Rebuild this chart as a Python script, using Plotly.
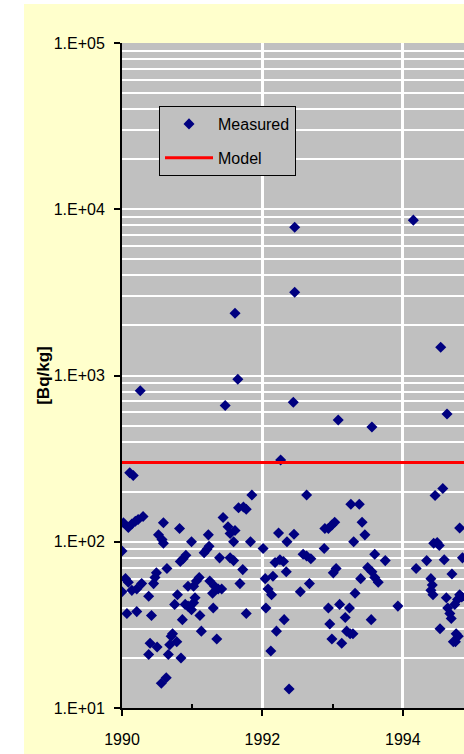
import plotly.graph_objects as go

# ---------------- data ----------------
measured_years = [
    1990.00, 1990.02, 1990.09, 1990.14, 1990.19, 1990.23, 1990.30, 1990.16, 1990.11, 1990.26,
    1990.05, 1990.09, 1990.00, 1990.14, 1990.21, 1990.28, 1990.07, 1990.21, 1990.38, 1990.42,
    1990.45, 1990.47, 1990.49, 1990.40, 1990.38, 1990.50, 1990.56, 1990.63, 1990.59, 1990.52,
    1990.57, 1990.59, 1990.64, 1990.66, 1990.68, 1990.72, 1990.78, 1990.70, 1990.75, 1990.79,
    1990.82, 1990.83, 1990.87, 1990.91, 1990.84, 1990.86, 1990.90, 1990.94, 1990.99, 1991.02,
    1991.04, 1990.94, 1991.02, 1991.06, 1991.10, 1990.99, 1991.11, 1991.13, 1991.17, 1991.21,
    1991.24, 1991.23, 1991.25, 1991.29, 1991.32, 1991.37, 1991.42, 1991.30, 1991.35, 1991.39,
    1991.44, 1991.51, 1991.54, 1991.59, 1991.61, 1991.54, 1991.59, 1991.66, 1991.73, 1991.77,
    1991.85, 1991.68, 1991.72, 1991.77, 1991.83, 1991.61, 1991.65, 1991.47,
    1992.01, 1992.04, 1992.15, 1992.08, 1992.13, 1992.05, 1992.20, 1992.12, 1992.38, 1992.23,
    1992.35, 1992.45, 1992.18, 1992.25, 1992.30, 1992.34, 1992.31, 1992.58, 1992.63, 1992.69,
    1992.54, 1992.67, 1992.63, 1992.26, 1992.44, 1992.46, 1992.46,
    1992.88, 1992.89, 1992.94, 1992.99, 1993.03, 1993.05, 1993.01, 1992.94, 1992.96, 1992.99,
    1993.10, 1993.18, 1993.24, 1993.20, 1993.25, 1993.29, 1993.13, 1993.32, 1993.08, 1993.56,
    1993.26, 1993.38, 1993.42, 1993.46, 1993.30, 1993.60, 1993.75, 1993.50, 1993.56, 1993.60,
    1993.65, 1993.40, 1993.93, 1993.55,
    1994.19, 1994.34, 1994.46, 1994.57, 1994.81, 1994.44, 1994.49, 1994.52, 1994.59, 1994.85,
    1994.40, 1994.42, 1994.40, 1994.43, 1994.70, 1994.62, 1994.64, 1994.67, 1994.69, 1994.78,
    1994.84, 1994.53, 1994.76, 1994.79, 1994.75, 1994.72, 1994.15, 1994.54, 1994.63, 1994.74,
    1994.81,
]
measured_values = [
    88, 130, 122, 128, 133, 136, 142, 250, 260, 810,
    60, 57, 50, 51, 52, 56, 37, 38, 47, 36,
    56, 61, 65, 24.5, 21, 23.3, 14.1, 15.2, 130, 110,
    103, 98, 69, 21, 24, 28, 25, 27, 42, 48,
    120, 76, 79, 83, 20, 34, 42, 41, 39, 43,
    46, 54, 54, 58, 61, 100, 36, 29, 86, 90,
    94, 110, 58, 49, 54, 52, 52, 40, 26, 80,
    140, 123, 112, 100, 117, 80, 77, 160, 162, 157,
    191, 56, 68, 37, 100, 2370, 950, 660,
    91, 60, 62, 52, 48, 40, 29, 22, 13, 113,
    100, 111, 75, 78, 76, 66, 34, 84, 82, 79,
    50, 56, 191, 310, 690, 3170, 7800,
    91, 120, 120, 126, 131, 69, 65, 40, 32, 26,
    42, 35, 40, 29, 28, 28, 24.5, 49, 540, 490,
    168, 168, 131, 110, 100, 84, 77, 70, 66, 61,
    57, 60, 41, 34,
    69, 77, 190, 209, 121, 98, 99, 95, 78, 80,
    60, 55, 51, 48, 64, 46, 40, 37, 34.5, 45,
    46.5, 30, 28, 27, 25, 25, 8600, 1480, 586, 42,
    48,
]

model_years = [1990, 1996]
model_values = [300, 300]

y_tick_values = [10, 100, 1000, 10000, 100000]
y_tick_labels = ["1.E+01", "1.E+02", "1.E+03", "1.E+04", "1.E+05"]
y_minor_values = [m * d for d in (10, 100, 1000, 10000) for m in range(2, 10)]
x_tick_values = [1990, 1992, 1994]
x_minor_values = [1991, 1993]

# ---------------- figure ----------------
FONT = "Liberation Sans, Arial, sans-serif"
fig = go.Figure()

fig.add_trace(go.Scatter(
    x=measured_years, y=measured_values, mode="markers", name="Measured",
    marker=dict(symbol="diamond", size=8.5, color="#000080"),
    legendgroup="a",
))
fig.add_trace(go.Scatter(
    x=model_years, y=model_values, mode="lines", name="Model",
    line=dict(color="#FF0000", width=3),
    legendgroup="b",
))

W, H = 464, 754
L, R, T, B = 122, 0, 43, 46
pw, ph = W - L - R, H - T - B

fig.update_layout(
    width=W, height=H,
    margin=dict(l=L, r=R, t=T, b=B, autoexpand=False),
    paper_bgcolor="#FFFFCC",
    plot_bgcolor="#C0C0C0",
    font=dict(family=FONT, size=16, color="#000000"),
    showlegend=True,
    legend=dict(
        x=(159 - L) / pw, y=(H - B - 106) / ph, xanchor="left", yanchor="top",
        bgcolor="#C0C0C0", bordercolor="#000000", borderwidth=1,
        font=dict(family=FONT, size=16, color="#000000"),
        traceorder="grouped", tracegroupgap=10, itemwidth=48,
    ),
    xaxis=dict(
        range=[1990, 1990 + pw / 70.2],
        tickmode="array", tickvals=x_tick_values,
        ticks="outside", ticklen=6, tickwidth=1.5, tickcolor="#000000",
        ticklabelstandoff=10,
        showgrid=True, gridcolor="#FFFFFF", gridwidth=2.5,
        showline=True, linecolor="#000000", linewidth=1.5,
        zeroline=False,
        minor=dict(tickmode="array", tickvals=x_minor_values, ticks="inside",
                   ticklen=4, tickcolor="#000000", showgrid=False),
        tickfont=dict(family=FONT, size=16),
    ),
    yaxis=dict(
        type="log", range=[1, 5],
        tickmode="array", tickvals=y_tick_values, ticktext=y_tick_labels,
        ticks="outside", ticklen=6, tickwidth=1.5, tickcolor="#000000",
        ticklabelstandoff=6,
        showgrid=True, gridcolor="#FFFFFF", gridwidth=2,
        showline=True, linecolor="#000000", linewidth=2,
        zeroline=False,
        minor=dict(tickmode="array", tickvals=y_minor_values, ticks="",
                   showgrid=True, gridcolor="#FFFFFF", gridwidth=2),
        tickfont=dict(family=FONT, size=16),
        title=dict(text="<b>[Bq/kg]</b>", standoff=0,
                   font=dict(family=FONT, size=17)),
    ),
    shapes=[
        dict(type="rect", xref="paper", yref="paper",
             x0=-L / pw - 0.05, x1=(24 - L) / pw, y0=-B / ph - 0.05, y1=(H - B) / ph + 0.05,
             fillcolor="#FFFFFF", line=dict(width=0), layer="below"),
        dict(type="rect", xref="paper", yref="paper",
             x0=-L / pw - 0.05, x1=1.05, y0=(H - B - 4) / ph, y1=(H - B) / ph + 0.05,
             fillcolor="#FFFFFF", line=dict(width=0), layer="below"),
    ],
)

fig.write_html(
    "out.html",
    config={"displayModeBar": False},
    post_script="document.body.style.margin='0px';document.body.style.overflow='hidden';",
)
